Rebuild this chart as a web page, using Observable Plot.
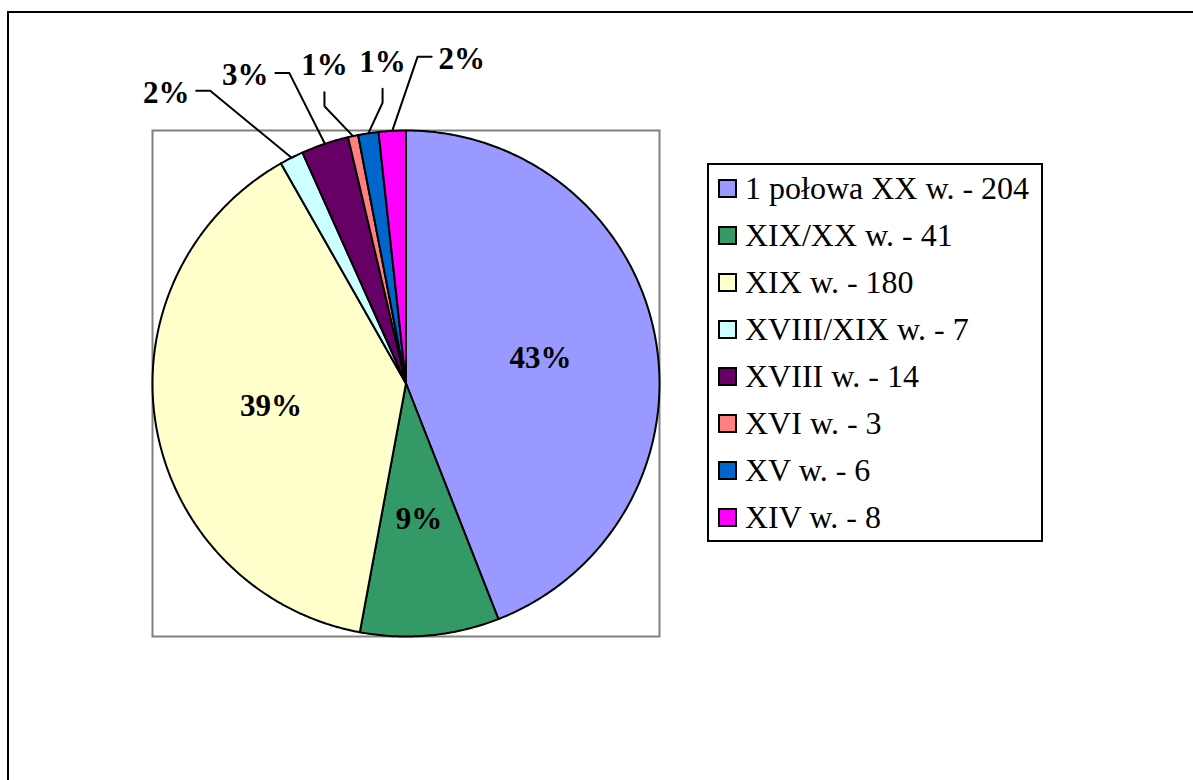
<!DOCTYPE html>
<html>
<head>
<meta charset="utf-8">
<script src="https://cdn.jsdelivr.net/npm/d3@7"></script>
<script src="https://cdn.jsdelivr.net/npm/@observablehq/plot@0.6"></script>
<style>
  html, body { margin: 0; padding: 0; background: #fff; }
  #wrap { position: relative; width: 1193px; height: 780px; overflow: hidden; background: #fff; }
  #chart { position: absolute; left: 0; top: 0; }
  #outer { position: absolute; left: 7px; top: 11px; width: 1300px; height: 900px;
           border-left: 2px solid #000; border-top: 2px solid #000; pointer-events: none; }
  #legend { position: absolute; left: 707px; top: 163px; width: 336px; height: 379px;
            box-sizing: border-box; border: 2px solid #000; background: #fff;
            font-family: 'Liberation Serif', 'Times New Roman', Times, serif;
            font-size: 32px; color: #000; }
  .item { height: 47px; display: flex; align-items: center; white-space: nowrap;
          font-family: 'Liberation Serif', 'Times New Roman', Times, serif; }
  .sw { width: 19px; height: 19px; box-sizing: border-box; border: 2px solid #000;
        margin-left: 9px; margin-right: 8px; flex: none; }
</style>
</head>
<body>
<div id="wrap">
  <div id="chart"></div>
  <div id="outer"></div>
  <div id="legend"></div>
</div>
<script>
// ---- data ----
const categories = ["1 połowa XX w.", "XIX/XX w.", "XIX w.", "XVIII/XIX w.", "XVIII w.", "XVI w.", "XV w.", "XIV w."];
const counts = [204, 41, 180, 7, 14, 3, 6, 8];
const pctLabels = ["43%", "9%", "39%", "2%", "3%", "1%", "1%", "2%"];
const colors = ["#9999FF", "#339966", "#FFFFCC", "#CCFFFF", "#660066", "#FF8080", "#0066CC", "#FF00FF"];

// ---- geometry derived from data ----
const total = d3.sum(counts);
let cum = 0;
const slices = categories.map((cat, i) => {
  const a0 = cum / total * 2 * Math.PI;
  cum += counts[i];
  const a1 = cum / total * 2 * Math.PI;
  return {cat, i, a0, a1, mid: (a0 + a1) / 2, share: counts[i] / total, label: pctLabels[i]};
});

// wedge outlines (unit circle, clockwise from 12 o'clock)
const wedgePts = [];
for (const s of slices) {
  wedgePts.push({cat: s.cat, x: 0, y: 0});
  const n = Math.max(2, Math.ceil((s.a1 - s.a0) / (Math.PI / 360)));
  for (let k = 0; k <= n; k++) {
    const a = s.a0 + (s.a1 - s.a0) * k / n;
    wedgePts.push({cat: s.cat, x: Math.sin(a), y: Math.cos(a)});
  }
}

const PX = 253; // approx pixels per unit radius
const u = px => px / PX;

// inside labels
const inner = slices.filter(s => s.share >= 0.05).map(s => ({
  label: s.label, x: 0.54 * Math.sin(s.mid), y: 0.54 * Math.cos(s.mid)
}));

// outside labels: width-aware horizontal dodge
const outer = slices.filter(s => s.share < 0.05).map(s => ({
  label: s.label, mid: s.mid,
  rx: Math.sin(s.mid), ry: Math.cos(s.mid),
  nx: 1.5 * Math.sin(s.mid),
  x: 1.5 * Math.sin(s.mid), y: 1.27 * Math.cos(s.mid) + u(4), type: "bottom"
}));
const half = u(23), lead = u(44), gapMin = u(12);
function extents(o) {
  return o.type === "right" ? [half, lead] : o.type === "left" ? [lead, half] : [half, half];
}
for (let pass = 0; pass < 4; pass++) {
  const meanN = d3.mean(outer, o => o.nx);
  outer.forEach(o => o.x = o.nx);
  for (let it = 0; it < 300; it++) {
    for (let i = 1; i < outer.length; i++) {
      const need = extents(outer[i - 1])[1] + extents(outer[i])[0] + gapMin;
      const gap = outer[i].x - outer[i - 1].x;
      if (gap < need) { const d = (need - gap) / 2; outer[i - 1].x -= d; outer[i].x += d; }
    }
  }
  const shift = meanN - d3.mean(outer, o => o.x);
  outer.forEach(o => {
    o.x += shift;
    const dpx = (o.x - o.rx) * PX;
    o.type = dpx < -40 ? "right" : dpx > 40 ? "left" : "bottom";
  });
}
const leaders = [];
outer.forEach((o, k) => {
  let start, elbow;
  if (o.type === "right") {
    start = {x: o.x + u(30), y: o.y + u(2)}; elbow = {x: o.x + u(44), y: o.y + u(2)};
  } else if (o.type === "left") {
    start = {x: o.x - u(30), y: o.y + u(2)}; elbow = {x: o.x - u(44), y: o.y + u(2)};
  } else {
    start = {x: o.x, y: o.y - u(27)}; elbow = {x: o.x, y: o.y - u(41)};
  }
  leaders.push({k, ...start}, {k, ...elbow}, {k, x: o.rx, y: o.ry});
});

const font = "'Liberation Serif', 'Times New Roman', Times, serif";

const plot = Plot.plot({
  width: 1193,
  height: 780,
  marginLeft: 152,
  marginRight: 534,
  marginTop: 130,
  marginBottom: 144,
  x: {domain: [-1, 1], axis: null},
  y: {domain: [-1, 1], axis: null},
  color: {domain: categories, range: colors},
  style: {background: "transparent", overflow: "visible", fontFamily: font},
  marks: [
    Plot.frame({stroke: "#808080", strokeWidth: 2}),
    Plot.line(wedgePts, {x: "x", y: "y", z: "cat", fill: "cat", stroke: "#000",
      strokeWidth: 2, curve: "linear-closed", strokeLinejoin: "round"}),
    Plot.line(leaders, {x: "x", y: "y", z: "k", stroke: "#000", strokeWidth: 2, clip: false}),
    Plot.text(inner, {x: "x", y: "y", text: "label", fontFamily: font, fontWeight: "bold",
      fontSize: 31, fill: "#000"}),
    Plot.text(outer, {x: "x", y: "y", text: "label", fontFamily: font, fontWeight: "bold",
      fontSize: 31, fill: "#000", clip: false})
  ]
});
document.getElementById("chart").appendChild(plot);

// legend
const lg = d3.select("#legend");
categories.forEach((c, i) => {
  const row = lg.append("div").attr("class", "item");
  row.append("div").attr("class", "sw").style("background", colors[i]);
  row.append("span").text(`${c} - ${counts[i]}`);
});
</script>
</body>
</html>
